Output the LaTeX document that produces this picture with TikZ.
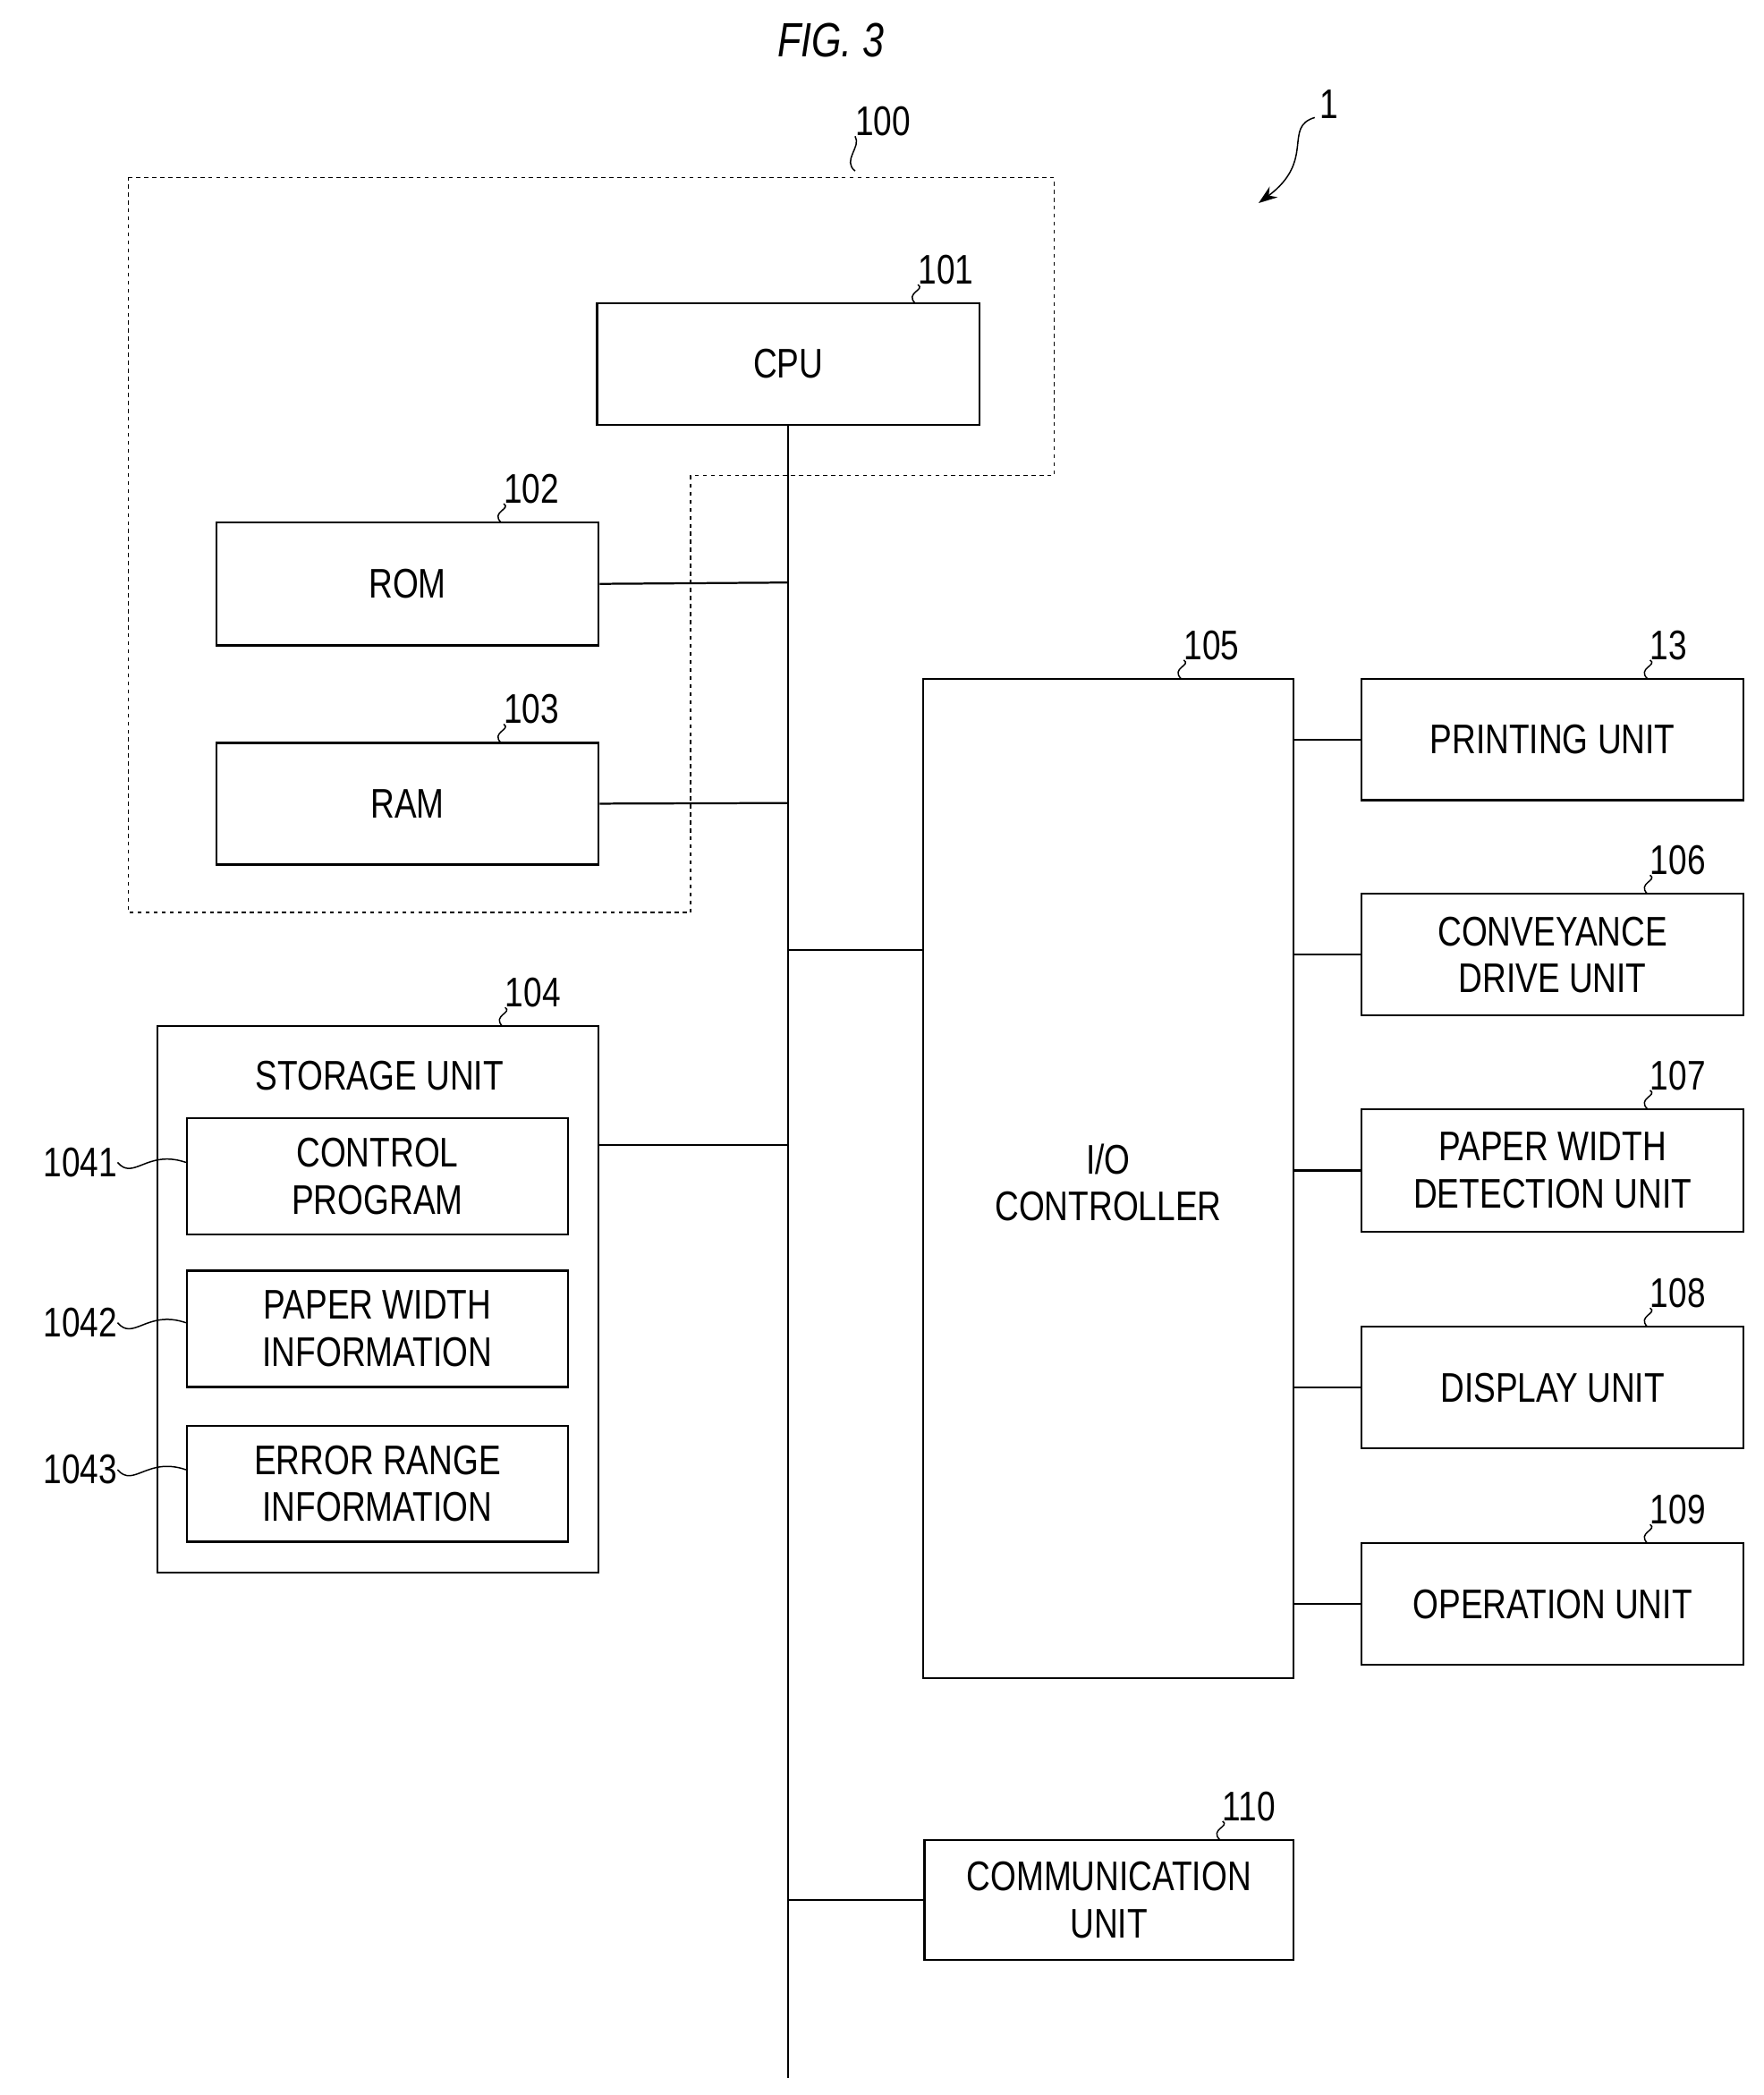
\documentclass[tikz,border=0pt]{standalone}
\usepackage{fontspec}
\setmainfont{Liberation Sans}[FakeStretch=0.8]
\usetikzlibrary{arrows.meta}
\begin{document}
\begin{tikzpicture}[x=1pt,y=-1pt,
  box/.style={draw,line width=1.6pt,inner sep=0pt},
  txt/.style={font=\fontsize{31}{35}\selectfont,align=center},
  lab/.style={font=\fontsize{31}{35}\selectfont,inner sep=0pt},
  ln/.style={line width=1.5pt},
  sq/.style={line width=1pt}]
\useasboundingbox (0,0) rectangle (1320,1568);
\node[font=\fontsize{36}{40}\selectfont\itshape] (title) at (622,30) {FIG. 3};
% dashed region
\draw[dashed,line width=1pt] (96,133) -- (789,133) -- (789,356) -- (517,356) -- (517,683) -- (96,683) -- cycle;
\coordinate (d100) at (640,128);
\node[lab,anchor=south west] (l100) at (640,102) {100};
\draw[sq] (d100) .. controls (630,120) and (645,110) .. (l100.south west);
\node[lab] (l1) at (995,78) {1};
\coordinate (a1) at (942,152);
\draw[sq,-{Stealth[length=14pt,width=10pt]}] (984,88) .. controls (960,95) and (985,120) .. (a1);
% boxes
\node[box,minimum width=286,minimum height=91] (cpu) at (590,272.5) {}; \node[txt] at (cpu) {CPU};
\node[box,minimum width=286,minimum height=92] (rom) at (305,437) {}; \node[txt] at (rom) {ROM};
\node[box,minimum width=286,minimum height=91] (ram) at (305,601.5) {}; \node[txt] at (ram) {RAM};
\node[box,minimum width=330,minimum height=409] (sto) at (283,972.5) {};
\node[txt] (stot) at (284,805) {STORAGE UNIT};
\node[box,minimum width=285,minimum height=87] (cp) at (282.5,880.5) {}; \node[txt] at (cp) {CONTROL\\PROGRAM};
\node[box,minimum width=285,minimum height=87] (pw) at (282.5,994.5) {}; \node[txt] at (pw) {PAPER WIDTH\\INFORMATION};
\node[box,minimum width=285,minimum height=87] (er) at (282.5,1110.5) {}; \node[txt] at (er) {ERROR RANGE\\INFORMATION};
\node[box,minimum width=277,minimum height=748] (io) at (829.5,882) {}; \node[txt] at (829.5,885) {I/O\\CONTROLLER};
\node[box,minimum width=286,minimum height=91] (pr) at (1162,553.5) {}; \node[txt] at (pr) {PRINTING UNIT};
\node[box,minimum width=286,minimum height=91] (cv) at (1162,714.5) {}; \node[txt] at (cv) {CONVEYANCE\\DRIVE UNIT};
\node[box,minimum width=286,minimum height=92] (pd) at (1162,876) {}; \node[txt] at (pd) {PAPER WIDTH\\DETECTION UNIT};
\node[box,minimum width=286,minimum height=91] (dp) at (1162,1038.5) {}; \node[txt] at (dp) {DISPLAY UNIT};
\node[box,minimum width=286,minimum height=91] (op) at (1162,1200.5) {}; \node[txt] at (op) {OPERATION UNIT};
\node[box,minimum width=276,minimum height=90] (cm) at (830,1422) {}; \node[txt] at (cm) {COMMUNICATION\\UNIT};
% bus
\coordinate (busend) at (590,1555);
\draw[ln] (cpu.south) -- (busend);
\draw[ln] (rom.east) -- (590,436);
\draw[ln] (ram.east) -- (590,601);
\draw[ln] (sto.east |- 0,857) -- (590,857);
\draw[ln] (590,711) -- (io.west |- 0,711);
\draw[ln] (590,1422) -- (cm.west);
\foreach \b in {pr,cv,pd,dp,op} \draw[ln] (io.east |- \b.west) -- (\b.west);
% vertical-ish reference labels
\foreach \n/\x/\y in {101/685/227, 102/375/391, 103/375/556, 104/376/768, 105/884/508, 13/1233/508, 106/1233/669, 107/1233/830, 108/1233/993, 109/1233/1155, 110/913/1377} {
  \coordinate (c\n) at (\x,\y);
  \node[lab,anchor=south west] (l\n) at (\x+2,\y-14) {\n};
  \draw[sq] (c\n) .. controls (\x-8,\y-8) and (\x+8,\y-10) .. (l\n.south west);
}
\foreach \n/\y/\b in {1041/870/cp, 1042/990/pw, 1043/1100/er} {
  \node[lab,anchor=east] (l\n) at (88,\y) {\n};
  \draw[sq] (l\n.east) .. controls (100,\y+14) and (110,\y-10) .. (\b.west |- 0,\y);
}
\end{tikzpicture}
\end{document}
